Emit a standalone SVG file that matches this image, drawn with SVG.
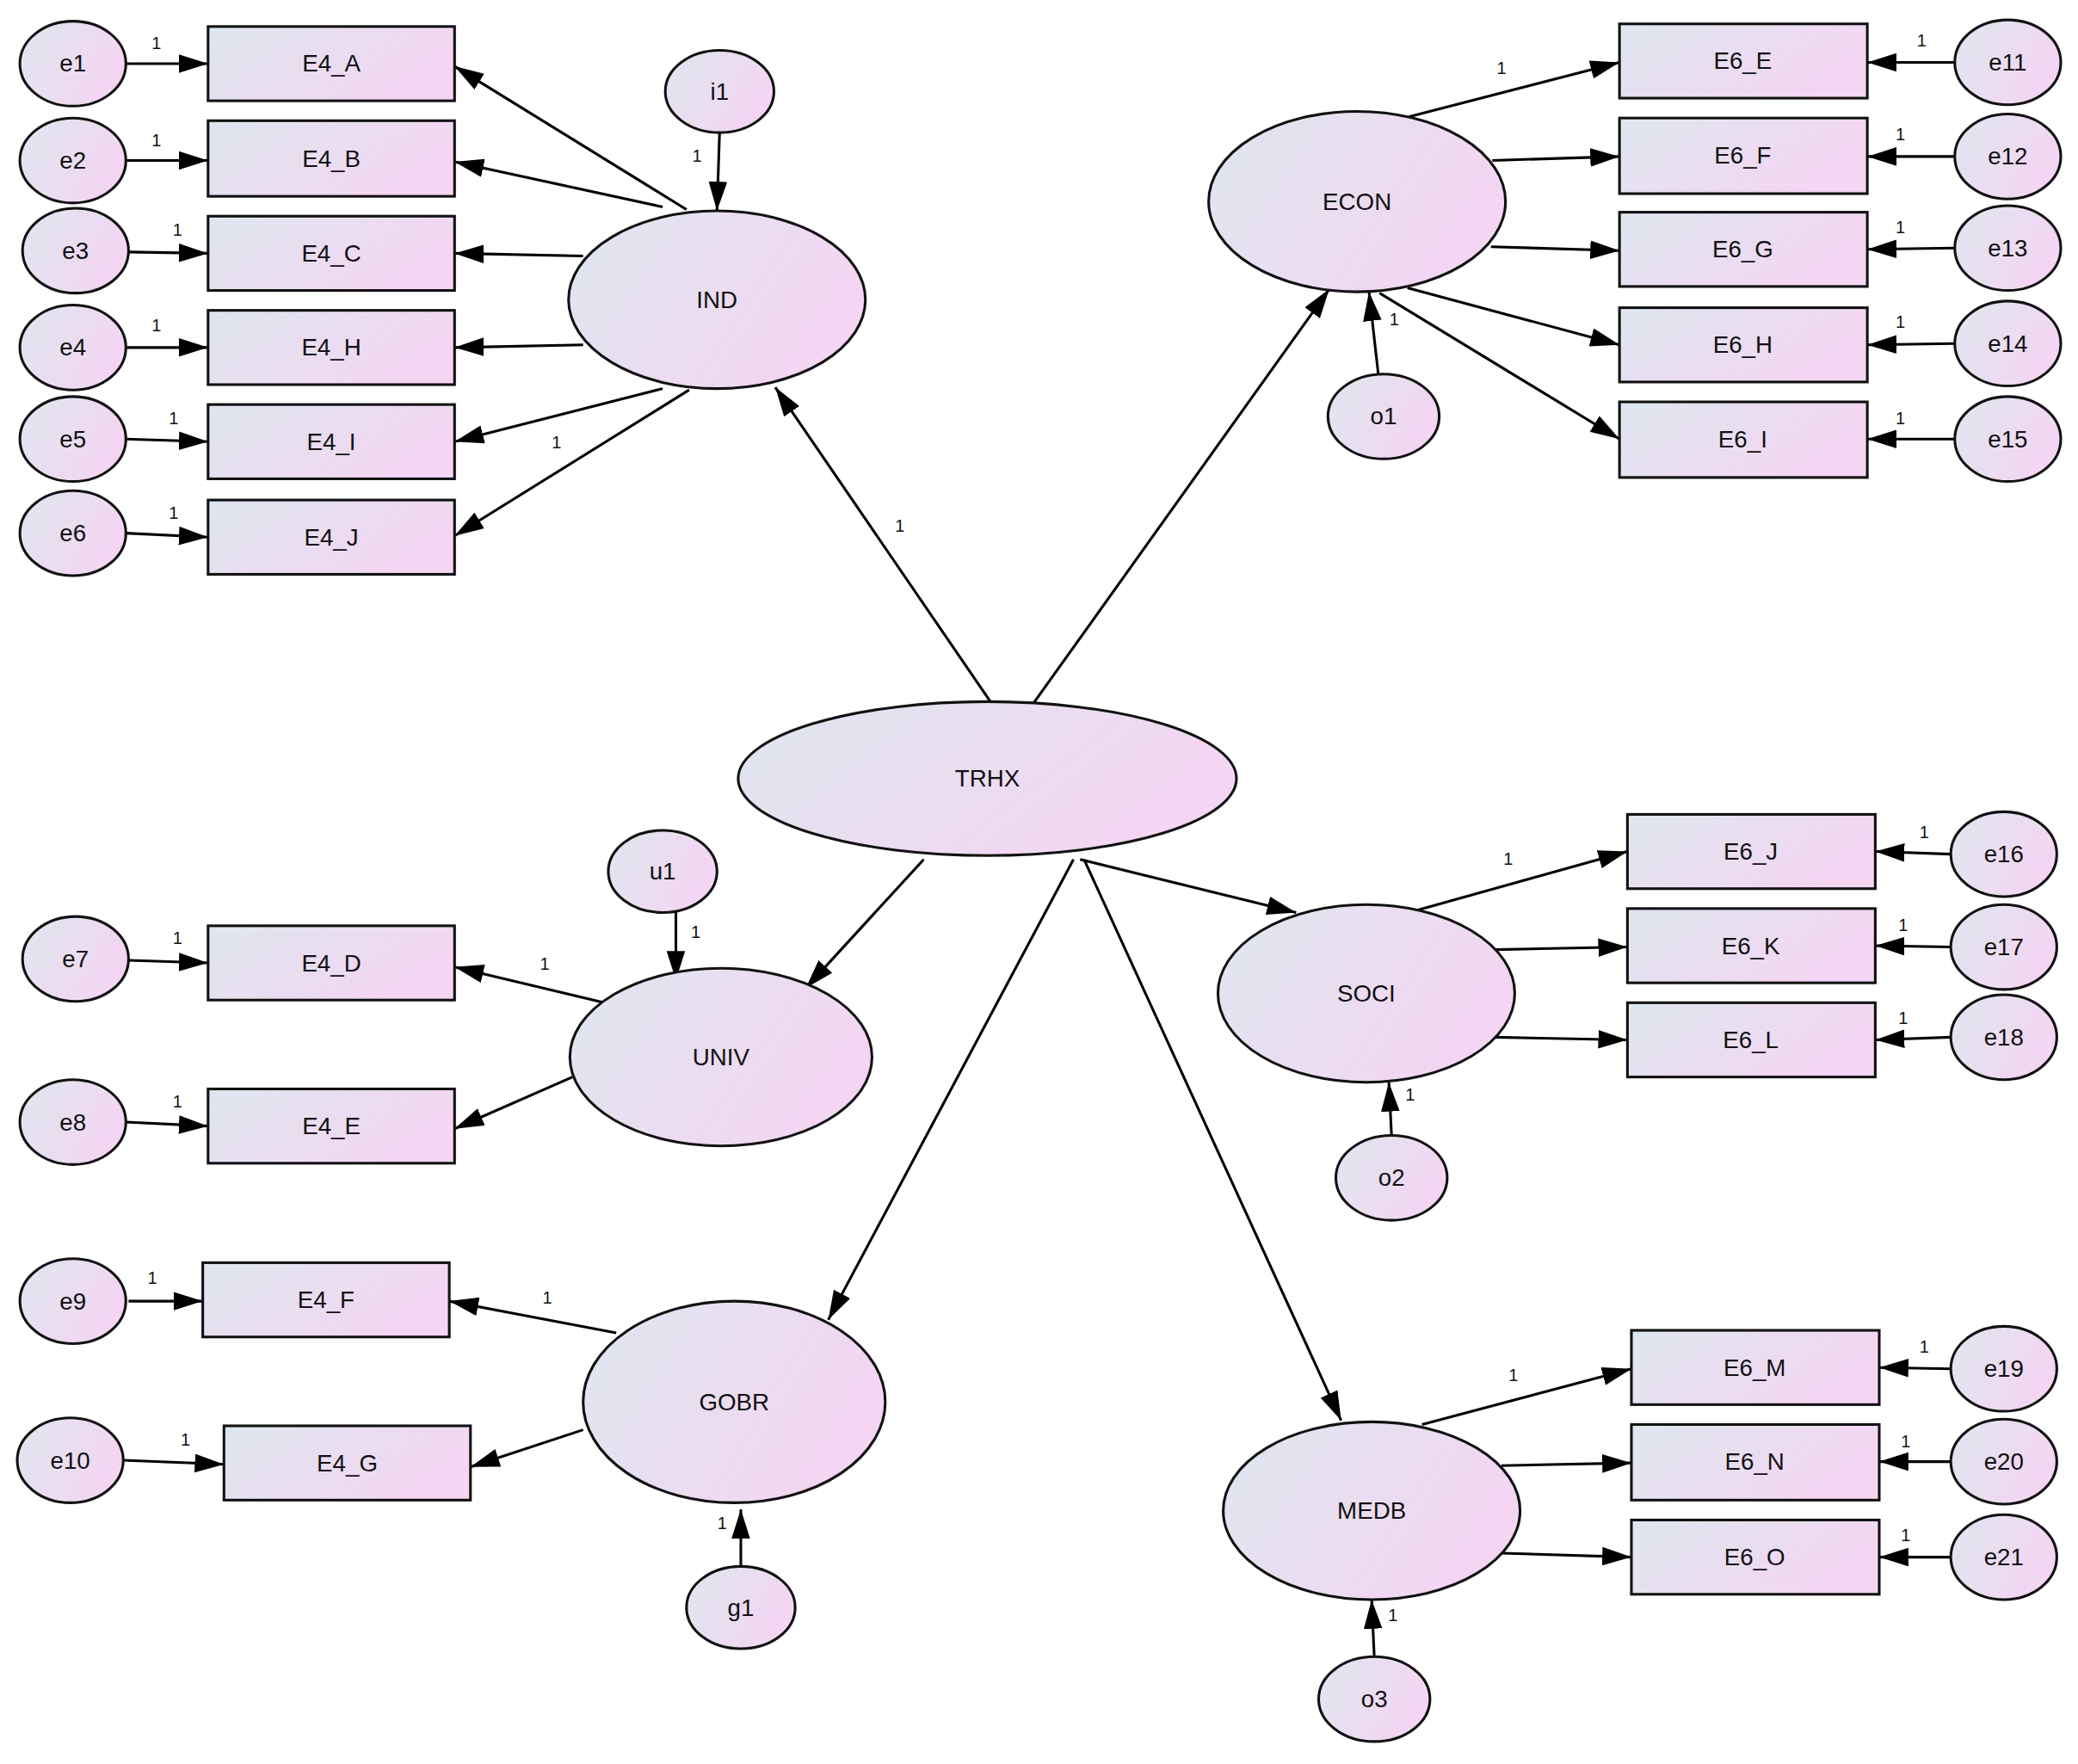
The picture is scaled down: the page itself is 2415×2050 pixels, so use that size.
<svg xmlns="http://www.w3.org/2000/svg" width="2415" height="2050" viewBox="0 0 2415 2050">
<defs>
<linearGradient id="g" x1="0" y1="0" x2="1" y2="0.4"><stop offset="0" stop-color="#dee7ee"/><stop offset="1" stop-color="#f4d5f3"/></linearGradient>
<marker id="a" markerUnits="userSpaceOnUse" markerWidth="24" markerHeight="16" refX="22" refY="7" orient="auto" viewBox="0 0 24 16"><path d="M0,0 L22,7 L0,14 Z" fill="#000"/></marker>
</defs>
<style>
.n ellipse,.n rect{fill:url(#g);stroke:#111;stroke-width:2}
.t{font-family:"Liberation Sans",Arial,sans-serif;font-size:18px;text-anchor:middle;dominant-baseline:central;fill:#111}
.l{font-family:"Liberation Sans",Arial,sans-serif;font-size:13px;text-anchor:middle;fill:#111}
#c line{stroke:#000;stroke-width:2;marker-end:url(#a)}
</style>
<rect width="2415" height="2050" fill="#fff"/>
<g transform="scale(1.5402,1.5414)">
<g id="c">
<line x1="95" y1="48" x2="157" y2="48"/><line x1="95" y1="121" x2="157" y2="121"/><line x1="97" y1="190" x2="157" y2="191"/><line x1="95" y1="262" x2="157" y2="262"/><line x1="95" y1="331" x2="157" y2="333"/><line x1="95" y1="402" x2="157" y2="405"/>
<line x1="518" y1="158" x2="343" y2="50"/><line x1="500" y1="156" x2="343" y2="122"/><line x1="440" y1="193" x2="343" y2="191"/><line x1="440" y1="260" x2="343" y2="262"/><line x1="500" y1="293" x2="343" y2="333"/><line x1="520" y1="294" x2="343" y2="404"/>
<line x1="543" y1="99" x2="541" y2="159"/>
<line x1="748" y1="530" x2="585" y2="292"/><line x1="780" y1="530" x2="1003" y2="218"/>
<line x1="1040" y1="282" x2="1033" y2="220"/>
<line x1="1063" y1="88" x2="1222" y2="47"/><line x1="1126" y1="121" x2="1222" y2="118"/><line x1="1125" y1="186" x2="1222" y2="189"/><line x1="1062" y1="217" x2="1222" y2="260"/><line x1="1041" y1="221" x2="1222" y2="331"/>
<line x1="1475" y1="47" x2="1409" y2="47"/><line x1="1475" y1="118" x2="1409" y2="118"/><line x1="1475" y1="187" x2="1409" y2="188"/><line x1="1475" y1="259" x2="1409" y2="260"/><line x1="1475" y1="331" x2="1409" y2="331"/>
<line x1="815" y1="648" x2="978" y2="688"/>
<line x1="1070" y1="686" x2="1228" y2="642"/><line x1="1128" y1="716" x2="1228" y2="714"/><line x1="1128" y1="782" x2="1228" y2="784"/>
<line x1="1472" y1="644" x2="1415" y2="642"/><line x1="1472" y1="714" x2="1415" y2="713"/><line x1="1472" y1="782" x2="1415" y2="784"/>
<line x1="1050" y1="856" x2="1048" y2="816"/>
<line x1="818" y1="648" x2="1012" y2="1071"/>
<line x1="1073" y1="1074" x2="1231" y2="1032"/><line x1="1133" y1="1105" x2="1231" y2="1103"/><line x1="1133" y1="1171" x2="1231" y2="1174"/>
<line x1="1472" y1="1032" x2="1418" y2="1031"/><line x1="1472" y1="1102" x2="1418" y2="1102"/><line x1="1472" y1="1174" x2="1418" y2="1174"/>
<line x1="1037" y1="1250" x2="1035" y2="1206"/>
<line x1="697" y1="648" x2="608" y2="745"/>
<line x1="510" y1="687" x2="510" y2="739"/>
<line x1="456" y1="756" x2="343" y2="729"/><line x1="432" y1="812" x2="343" y2="851"/>
<line x1="97" y1="724" x2="157" y2="726"/><line x1="95" y1="846" x2="157" y2="849"/>
<line x1="810" y1="648" x2="625" y2="995"/>
<line x1="465" y1="1005" x2="339" y2="981"/><line x1="440" y1="1078" x2="355" y2="1106"/>
<line x1="97" y1="981" x2="153" y2="981"/><line x1="93" y1="1101" x2="169" y2="1104"/>
<line x1="559" y1="1183" x2="559" y2="1138"/>
<g class="l" style="font-size:13px">
<text x="118" y="37" class="l">1</text><text x="118" y="110" class="l">1</text><text x="134" y="178" class="l">1</text><text x="118" y="250" class="l">1</text><text x="131" y="320" class="l">1</text><text x="131" y="391" class="l">1</text>
<text x="420" y="338" class="l">1</text><text x="526" y="122" class="l">1</text><text x="679" y="401" class="l">1</text>
<text x="1133" y="56" class="l">1</text><text x="1052" y="245" class="l">1</text>
<text x="1450" y="35" class="l">1</text><text x="1434" y="106" class="l">1</text><text x="1434" y="176" class="l">1</text><text x="1434" y="247" class="l">1</text><text x="1434" y="320" class="l">1</text>
<text x="1138" y="652" class="l">1</text><text x="1452" y="632" class="l">1</text><text x="1436" y="702" class="l">1</text><text x="1436" y="772" class="l">1</text><text x="1064" y="830" class="l">1</text>
<text x="1142" y="1041" class="l">1</text><text x="1452" y="1020" class="l">1</text><text x="1438" y="1091" class="l">1</text><text x="1438" y="1162" class="l">1</text><text x="1051" y="1222" class="l">1</text>
<text x="525" y="707" class="l">1</text><text x="411" y="731" class="l">1</text><text x="134" y="712" class="l">1</text><text x="134" y="835" class="l">1</text>
<text x="413" y="983" class="l">1</text><text x="115" y="968" class="l">1</text><text x="140" y="1090" class="l">1</text><text x="545" y="1153" class="l">1</text>
</g>
</g>
<g id="TRHX" class="n"><ellipse cx="745" cy="587" rx="188" ry="58"/><text class="t" x="745" y="587">TRHX</text></g>
<g id="IND" class="n"><ellipse cx="541" cy="226" rx="112" ry="67"/><text class="t" x="541" y="226">IND</text></g>
<g id="ECON" class="n"><ellipse cx="1024" cy="152" rx="112" ry="68"/><text class="t" x="1024" y="152">ECON</text></g>
<g id="SOCI" class="n"><ellipse cx="1031" cy="749" rx="112" ry="67"/><text class="t" x="1031" y="749">SOCI</text></g>
<g id="MEDB" class="n"><ellipse cx="1035" cy="1139" rx="112" ry="67"/><text class="t" x="1035" y="1139">MEDB</text></g>
<g id="UNIV" class="n"><ellipse cx="544" cy="797" rx="114" ry="67"/><text class="t" x="544" y="797">UNIV</text></g>
<g id="GOBR" class="n"><ellipse cx="554" cy="1057" rx="114" ry="76"/><text class="t" x="554" y="1057">GOBR</text></g>
<g id="E4_A" class="n"><rect x="157" y="20" width="186" height="56"/><text class="t" x="250" y="48">E4_A</text></g>
<g id="E4_B" class="n"><rect x="157" y="91" width="186" height="57"/><text class="t" x="250" y="120">E4_B</text></g>
<g id="E4_C" class="n"><rect x="157" y="163" width="186" height="56"/><text class="t" x="250" y="191">E4_C</text></g>
<g id="E4_H" class="n"><rect x="157" y="234" width="186" height="56"/><text class="t" x="250" y="262">E4_H</text></g>
<g id="E4_I" class="n"><rect x="157" y="305" width="186" height="56"/><text class="t" x="250" y="333">E4_I</text></g>
<g id="E4_J" class="n"><rect x="157" y="377" width="186" height="56"/><text class="t" x="250" y="405">E4_J</text></g>
<g id="E4_D" class="n"><rect x="157" y="698" width="186" height="56"/><text class="t" x="250" y="726">E4_D</text></g>
<g id="E4_E" class="n"><rect x="157" y="821" width="186" height="56"/><text class="t" x="250" y="849">E4_E</text></g>
<g id="E4_F" class="n"><rect x="153" y="952" width="186" height="56"/><text class="t" x="246" y="980">E4_F</text></g>
<g id="E4_G" class="n"><rect x="169" y="1075" width="186" height="56"/><text class="t" x="262" y="1103">E4_G</text></g>
<g id="E6_E" class="n"><rect x="1222" y="18" width="187" height="56"/><text class="t" x="1315" y="46">E6_E</text></g>
<g id="E6_F" class="n"><rect x="1222" y="89" width="187" height="57"/><text class="t" x="1315" y="117">E6_F</text></g>
<g id="E6_G" class="n"><rect x="1222" y="160" width="187" height="56"/><text class="t" x="1315" y="188">E6_G</text></g>
<g id="E6_H" class="n"><rect x="1222" y="232" width="187" height="56"/><text class="t" x="1315" y="260">E6_H</text></g>
<g id="E6_I" class="n"><rect x="1222" y="303" width="187" height="57"/><text class="t" x="1315" y="331">E6_I</text></g>
<g id="E6_J" class="n"><rect x="1228" y="614" width="187" height="56"/><text class="t" x="1321" y="642">E6_J</text></g>
<g id="E6_K" class="n"><rect x="1228" y="685" width="187" height="56"/><text class="t" x="1321" y="713">E6_K</text></g>
<g id="E6_L" class="n"><rect x="1228" y="756" width="187" height="56"/><text class="t" x="1321" y="784">E6_L</text></g>
<g id="E6_M" class="n"><rect x="1231" y="1003" width="187" height="56"/><text class="t" x="1324" y="1031">E6_M</text></g>
<g id="E6_N" class="n"><rect x="1231" y="1074" width="187" height="57"/><text class="t" x="1324" y="1102">E6_N</text></g>
<g id="E6_O" class="n"><rect x="1231" y="1146" width="187" height="56"/><text class="t" x="1324" y="1174">E6_O</text></g>
<g id="e1" class="n"><ellipse cx="55" cy="48" rx="40" ry="32"/><text class="t" x="55" y="48">e1</text></g>
<g id="e2" class="n"><ellipse cx="55" cy="121" rx="40" ry="32"/><text class="t" x="55" y="121">e2</text></g>
<g id="e3" class="n"><ellipse cx="57" cy="189" rx="40" ry="32"/><text class="t" x="57" y="189">e3</text></g>
<g id="e4" class="n"><ellipse cx="55" cy="262" rx="40" ry="32"/><text class="t" x="55" y="262">e4</text></g>
<g id="e5" class="n"><ellipse cx="55" cy="331" rx="40" ry="32"/><text class="t" x="55" y="331">e5</text></g>
<g id="e6" class="n"><ellipse cx="55" cy="402" rx="40" ry="32"/><text class="t" x="55" y="402">e6</text></g>
<g id="e7" class="n"><ellipse cx="57" cy="723" rx="40" ry="32"/><text class="t" x="57" y="723">e7</text></g>
<g id="e8" class="n"><ellipse cx="55" cy="846" rx="40" ry="32"/><text class="t" x="55" y="846">e8</text></g>
<g id="e9" class="n"><ellipse cx="55" cy="981" rx="40" ry="32"/><text class="t" x="55" y="981">e9</text></g>
<g id="e10" class="n"><ellipse cx="53" cy="1101" rx="40" ry="32"/><text class="t" x="53" y="1101">e10</text></g>
<g id="e11" class="n"><ellipse cx="1515" cy="47" rx="40" ry="32"/><text class="t" x="1515" y="47">e11</text></g>
<g id="e12" class="n"><ellipse cx="1515" cy="118" rx="40" ry="32"/><text class="t" x="1515" y="118">e12</text></g>
<g id="e13" class="n"><ellipse cx="1515" cy="187" rx="40" ry="32"/><text class="t" x="1515" y="187">e13</text></g>
<g id="e14" class="n"><ellipse cx="1515" cy="259" rx="40" ry="32"/><text class="t" x="1515" y="259">e14</text></g>
<g id="e15" class="n"><ellipse cx="1515" cy="331" rx="40" ry="32"/><text class="t" x="1515" y="331">e15</text></g>
<g id="e16" class="n"><ellipse cx="1512" cy="644" rx="40" ry="32"/><text class="t" x="1512" y="644">e16</text></g>
<g id="e17" class="n"><ellipse cx="1512" cy="714" rx="40" ry="32"/><text class="t" x="1512" y="714">e17</text></g>
<g id="e18" class="n"><ellipse cx="1512" cy="782" rx="40" ry="32"/><text class="t" x="1512" y="782">e18</text></g>
<g id="e19" class="n"><ellipse cx="1512" cy="1032" rx="40" ry="32"/><text class="t" x="1512" y="1032">e19</text></g>
<g id="e20" class="n"><ellipse cx="1512" cy="1102" rx="40" ry="32"/><text class="t" x="1512" y="1102">e20</text></g>
<g id="e21" class="n"><ellipse cx="1512" cy="1174" rx="40" ry="32"/><text class="t" x="1512" y="1174">e21</text></g>
<g id="i1" class="n"><ellipse cx="543" cy="69" rx="41" ry="31"/><text class="t" x="543" y="69">i1</text></g>
<g id="u1" class="n"><ellipse cx="500" cy="657" rx="41" ry="31"/><text class="t" x="500" y="657">u1</text></g>
<g id="g1" class="n"><ellipse cx="559" cy="1212" rx="41" ry="31"/><text class="t" x="559" y="1212">g1</text></g>
<g id="o1" class="n"><ellipse cx="1044" cy="314" rx="42" ry="32"/><text class="t" x="1044" y="314">o1</text></g>
<g id="o2" class="n"><ellipse cx="1050" cy="888" rx="42" ry="32"/><text class="t" x="1050" y="888">o2</text></g>
<g id="o3" class="n"><ellipse cx="1037" cy="1281" rx="42" ry="32"/><text class="t" x="1037" y="1281">o3</text></g>
</g>
</svg>
